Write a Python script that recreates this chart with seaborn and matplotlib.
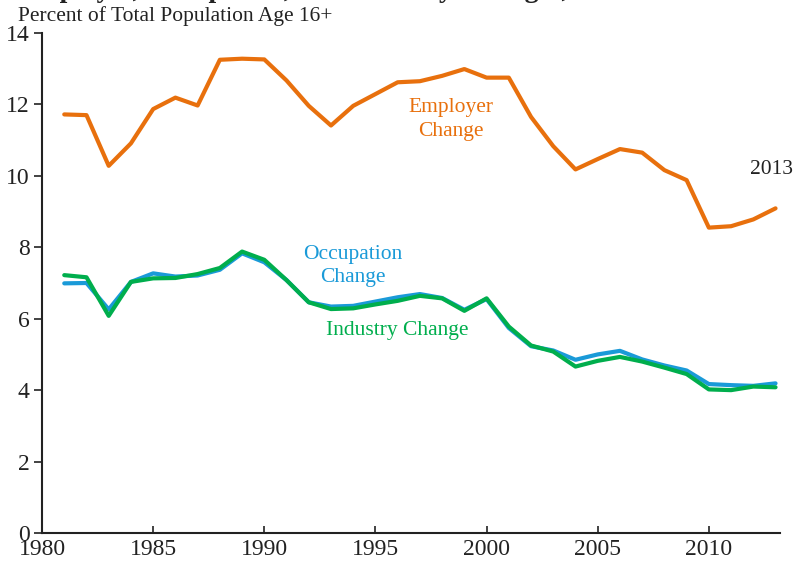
import matplotlib
matplotlib.use("Agg")
import matplotlib.pyplot as plt
import seaborn as sns
import pandas as pd

# data
years = list(range(1981, 2014))
employer = [11.72, 11.70, 10.28, 10.91, 11.87, 12.19, 11.97, 13.25, 13.28, 13.26,
            12.67, 11.96, 11.41, 11.96, 12.29, 12.62, 12.65, 12.80, 12.99, 12.75,
            12.75, 11.65, 10.83, 10.18, 10.47, 10.75, 10.65, 10.16, 9.88, 8.55,
            8.59, 8.78, 9.09]
occupation = [6.99, 7.00, 6.26, 7.03, 7.27, 7.18, 7.21, 7.37, 7.83, 7.58,
              7.08, 6.46, 6.34, 6.36, 6.48, 6.60, 6.69, 6.58, 6.25, 6.55,
              5.74, 5.23, 5.11, 4.85, 5.00, 5.10, 4.86, 4.69, 4.55, 4.17,
              4.14, 4.12, 4.19]
industry = [7.22, 7.16, 6.08, 7.03, 7.13, 7.14, 7.25, 7.42, 7.88, 7.65,
            7.08, 6.46, 6.27, 6.29, 6.40, 6.50, 6.64, 6.57, 6.22, 6.57,
            5.78, 5.25, 5.08, 4.66, 4.82, 4.93, 4.80, 4.63, 4.45, 4.02,
            4.00, 4.10, 4.08]

orange = "#E8700D"
blue = "#1A9AD8"
green = "#00AE4D"

df = pd.DataFrame({"year": years, "Employer": employer,
                   "Occupation": occupation, "Industry": industry})

sns.set_style("ticks")
plt.rcParams["font.family"] = ["Liberation Serif", "DejaVu Serif"]

fig = plt.figure(figsize=(7.99, 5.63), dpi=100)
ax = fig.add_axes([0.0526, 0.0533, 0.9236, 0.8881])

sns.lineplot(data=df, x="year", y="Employer", color=orange, lw=3, ax=ax)
sns.lineplot(data=df, x="year", y="Occupation", color=blue, lw=3, ax=ax)
sns.lineplot(data=df, x="year", y="Industry", color=green, lw=3, ax=ax)

ax.set_xlim(1980, 2013.2)
ax.set_ylim(0, 14)
ax.set_xticks(range(1980, 2011, 5))
ax.set_yticks(range(0, 15, 2))
ax.set_xlabel("")
ax.set_ylabel("")
ax.tick_params(axis="x", direction="in", length=5, width=1.2, labelsize=17,
               pad=4, colors="#222222")
ax.tick_params(axis="y", direction="out", length=6, width=1.2, labelsize=17,
               pad=3, colors="#222222")
for s in ["top", "right"]:
    ax.spines[s].set_visible(False)
for s in ["left", "bottom"]:
    ax.spines[s].set_linewidth(1.5)
    ax.spines[s].set_color("#222222")

ax.text(1998.4, 11.58, "Employer\nChange", color=orange, fontsize=15.5,
        ha="center", va="center", linespacing=1.3)
ax.text(1994.0, 7.48, "Occupation\nChange", color=blue, fontsize=15.5,
        ha="center", va="center", linespacing=1.3)
ax.text(1996.0, 5.66, "Industry Change", color=green, fontsize=15.5,
        ha="center", va="center")
ax.text(2012.8, 10.17, "2013", color="#222222", fontsize=15.5,
        ha="center", va="center")

fig.text(0.022, 0.962, "Percent of Total Population Age 16+", fontsize=15.5,
         color="#222222", ha="left", va="baseline")
# title only partly visible at the top edge, as in the reference
fig.text(0.45, 1 + 3 / 563, "Employer, Occupation, and Industry Changes, 1981\u20132013",
         fontsize=20, fontweight="bold", color="#222222", ha="center",
         va="baseline")

fig.savefig("out.png", dpi=100)
